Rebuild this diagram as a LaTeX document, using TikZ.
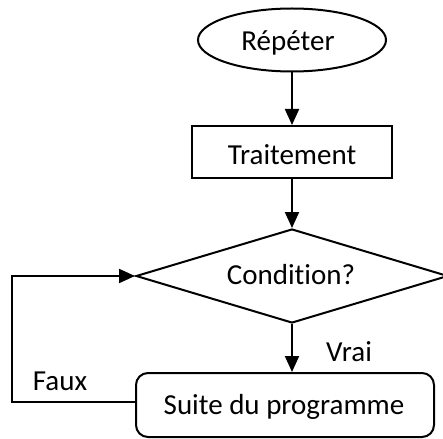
\documentclass[tikz,border=0pt]{standalone}
\usepackage{fontspec}
\setmainfont{Carlito}[Ligatures=NoCommon]
\usetikzlibrary{shapes.geometric,arrows.meta}
\tikzset{
  every node/.style={font=\fontsize{14.5}{17}\selectfont, inner sep=0pt},
  box/.style={draw, line width=1pt},
  arr/.style={line width=1pt, -{Triangle[length=8pt,width=7pt]}},
  line/.style={line width=1pt}
}
\begin{document}
\begin{tikzpicture}[x=0.5pt,y=-0.5pt]
  \useasboundingbox (0,0) rectangle (443,438);
  \node[box, ellipse, minimum width=94pt, minimum height=31.5pt] (rep) at (292,40) {};
  \node at (288,43) {Répéter};
  \node[box, rectangle, minimum width=100pt, minimum height=26pt] (trait) at (292,152) {};
  \node at (292,155) {Traitement};
  \node[box, diamond, aspect=3.3, minimum width=156pt, minimum height=47pt] (cond) at (292,276) {};
  \node at (291,275) {Condition?};
  \node[box, rectangle, rounded corners=6pt, minimum width=149pt, minimum height=32pt] (suite) at (285,405) {};
  \node at (284,407) {Suite du programme};
  \node (vrai) at (349,352) {Vrai};
  \node (faux) at (60,381) {Faux};
  \coordinate (fb) at (12,402);
  \coordinate (ft) at (12,276);
  \draw[arr] (rep.south) -- (trait.north);
  \draw[arr] (trait.south) -- (cond.north);
  \draw[arr] (cond.south) -- (cond.south |- suite.north);
  \draw[arr] (suite.west |- fb) -- (fb) -- (ft) -- (cond.west);
\end{tikzpicture}
\end{document}
